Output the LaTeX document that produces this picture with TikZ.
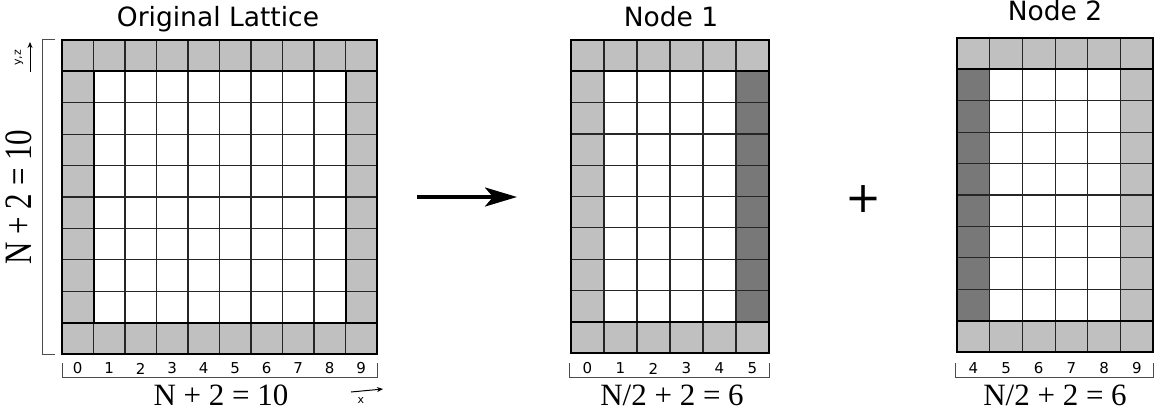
\documentclass[tikz,border=0pt]{standalone}
\usepackage{fontspec}
\setmainfont{Liberation Serif}
\setsansfont{DejaVu Sans}
\usetikzlibrary{arrows.meta}
\definecolor{halo}{RGB}{192,192,192}
\definecolor{voisin}{RGB}{120,120,120}
\tikzstyle{pli}=[line width=1.2pt, black!85]
\tikzstyle{bord}=[line width=2pt, join=miter]
\tikzstyle{accolade}=[line width=1pt, black!70]
\tikzstyle{titre}=[font=\sffamily\fontsize{26.5}{30}\selectfont, inner sep=0, anchor=base]
\tikzstyle{chiffre}=[font=\sffamily\fontsize{15}{17}\selectfont, inner sep=0]
\tikzstyle{taille}=[font=\rmfamily\fontsize{31}{34}\selectfont, inner sep=0, anchor=base]
\tikzstyle{petit}=[font=\sffamily\fontsize{11}{12}\selectfont, inner sep=0]
\newcommand{\grille}[3]{
  \foreach \I in {0,...,#1}
    \draw[pli] (\I*#2,0) -- (\I*#2,10*#3);
  \foreach \J in {0,...,10}
    \draw[pli] (0,\J*#3) -- (#1*#2,\J*#3);
  \draw[bord] (0,0) rectangle (#1*#2,10*#3);
  \draw[bord] (0,#3) -- (#1*#2,#3);
  \draw[bord] (0,9*#3) -- (#1*#2,9*#3);
}
\begin{document}
\begin{tikzpicture}[x=1pt,y=-1pt]
\useasboundingbox (0,0) rectangle (1159,412);

%reseau original
\begin{scope}[shift={(62,40)}]
  \fill[halo] (0,0) rectangle (315,314);
  \fill[white] (31.5,31.4) rectangle (283.5,282.6);
  \grille{10}{31.5}{31.4}
  \draw[bord] (31.5,31.4) -- (31.5,282.6) (283.5,31.4) -- (283.5,282.6);
  \foreach \I in {0,...,9}
    \node[chiffre] (o\I) at (\I*31.5+15.75,328.5) {\I};
  \draw[accolade] (0,323) |- (315,337) -- (315,323);
\end{scope}
\node[titre] (titreO) at (218,27) {Original Lattice};
\draw[accolade] (55,40) -| (42,354) -- (55,354);
\node[taille,anchor=center,rotate=90,yscale=1.25] (hauteur) at (19,197) {N + 2 = 10};
\node[taille] (largeurO) at (221,405) {N + 2 = 10};
\coordinate (yzA) at (30,72);
\coordinate (yzB) at (30,42);
\draw[line width=1pt,-{Stealth[length=6pt,width=5pt]}] (yzA) -- (yzB);
\node[petit,rotate=90] (yz) at (19,58) {y,z};
\coordinate (xA) at (351,392);
\coordinate (xB) at (383,389);
\draw[line width=1pt,-{Stealth[length=6pt,width=5pt]}] (xA) -- (xB);
\node[petit] (xl) at (361,400) {x};

%fleche
\coordinate (flecheA) at (417,197);
\coordinate (flecheB) at (517,197);
\draw[line width=4pt,-{Stealth[length=32pt,width=19pt,inset=8pt]}] (flecheA) -- (flecheB);

%noeud 1
\begin{scope}[shift={(571,40)}]
  \fill[halo] (0,0) rectangle (198,313);
  \fill[white] (33,31.3) rectangle (165,281.7);
  \fill[voisin] (165,31.3) rectangle (198,281.7);
  \grille{6}{33}{31.3}
  \foreach \I in {0,...,5}
    \node[chiffre] (a\I) at (\I*33+16.5,328.5) {\I};
  \draw[accolade] (-2,323) |- (198,337) -- (198,323);
\end{scope}
\node[titre] (titreA) at (671,27) {Node 1};
\node[taille] (largeurA) at (672,405) {N/2 + 2 = 6};

\node[font=\sffamily\fontsize{43}{46}\selectfont, inner sep=0] (plus) at (864,199) {+};

%noeud 2
\begin{scope}[shift={(957,38)}]
  \fill[halo] (0,0) rectangle (196,314);
  \fill[voisin] (0,31.4) rectangle (32.7,282.6);
  \fill[white] (32.7,31.4) rectangle (163.5,282.6);
  \grille{6}{32.7}{31.4}
  \foreach \I [count=\k from 0] in {4,...,9}
    \node[chiffre] (b\I) at (\k*32.7+16.35,330.5) {\I};
  \draw[accolade] (-2,325) |- (196,339) -- (196,325);
\end{scope}
\node[titre] (titreB) at (1055,21) {Node 2};
\node[taille] (largeurB) at (1055,405) {N/2 + 2 = 6};
\end{tikzpicture}
\end{document}
